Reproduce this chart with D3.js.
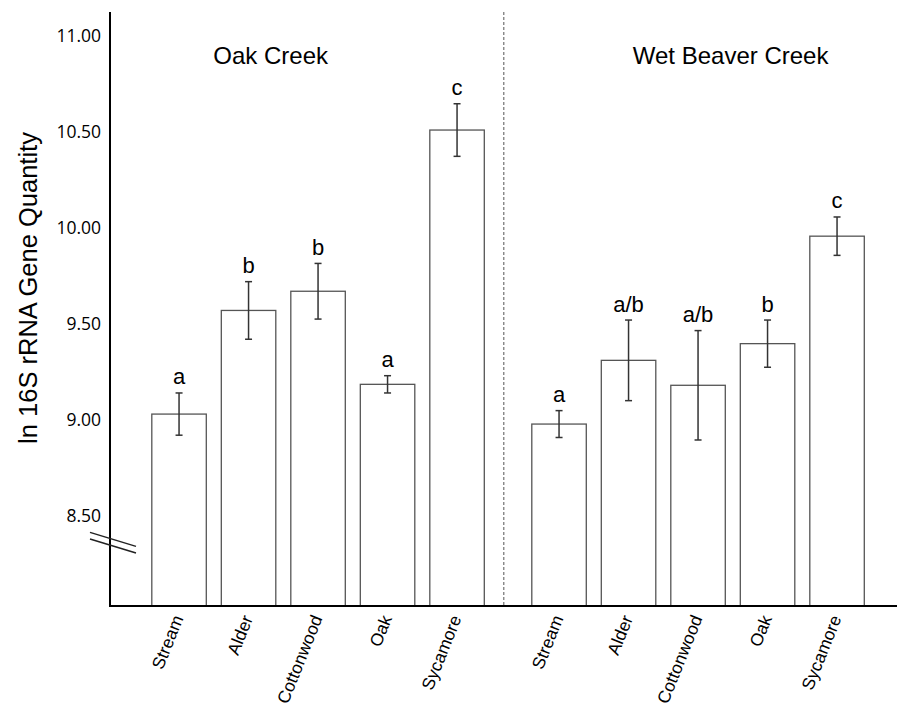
<!DOCTYPE html>
<html>
<head>
<meta charset="utf-8">
<script src="https://d3js.org/d3.v7.min.js"></script>
<style>
  html, body { margin: 0; padding: 0; background: #fff; }
  svg { display: block; }
</style>
</head>
<body>
<svg id="chart" width="897" height="708"></svg>
<script>
// ---- data ----
const groups = ["Oak Creek", "Wet Beaver Creek"];
const categories = ["Stream", "Alder", "Cottonwood", "Oak", "Sycamore"];
const oakCreekMeans = [9.03, 9.57, 9.67, 9.185, 10.51];
const oakCreekErr   = [0.11, 0.15, 0.145, 0.045, 0.137];
const oakCreekLetters = ["a", "b", "b", "a", "c"];
const wetBeaverMeans = [8.978, 9.31, 9.18, 9.397, 9.957];
const wetBeaverErr   = [0.07, 0.21, 0.285, 0.123, 0.10];
const wetBeaverLetters = ["a", "a/b", "a/b", "b", "c"];
const yTicks = [8.5, 9.0, 9.5, 10.0, 10.5, 11.0];
const yLabel = "ln 16S rRNA Gene Quantity";

const seriesByGroup = {
  "Oak Creek": { means: oakCreekMeans, err: oakCreekErr, letters: oakCreekLetters },
  "Wet Beaver Creek": { means: wetBeaverMeans, err: wetBeaverErr, letters: wetBeaverLetters }
};

const rows = [];
groups.forEach(g => {
  const s = seriesByGroup[g];
  categories.forEach((c, i) => rows.push({ group: g, cat: c, mean: s.means[i], err: s.err[i], letter: s.letters[i] }));
});

// ---- layout ----
const svg = d3.select("#chart");
const axisX = 110, axisBottom = 606, axisTop = 12;

const y = d3.scaleLinear().domain([8.03, 11.0]).range([axisBottom, 36]);

const xg = d3.scaleBand().domain(groups).range([144.3, 871.8]).paddingInner(0.0855).paddingOuter(0);
const xi = d3.scaleBand().domain(categories).range([0, xg.bandwidth()]).paddingInner(0.216).paddingOuter(0.108);

const barX = d => xg(d.group) + xi(d.cat);
const barC = d => barX(d) + xi.bandwidth() / 2;

// bars
svg.append("g").selectAll("rect").data(rows).join("rect")
  .attr("x", barX)
  .attr("y", d => y(d.mean))
  .attr("width", xi.bandwidth())
  .attr("height", d => axisBottom - y(d.mean))
  .attr("fill", "#fff")
  .attr("stroke", "#555")
  .attr("stroke-width", 1.3);

// error bars
const eb = svg.append("g").attr("stroke", "#333").attr("stroke-width", 1.5);
eb.selectAll("line.v").data(rows).join("line").attr("class", "v")
  .attr("x1", barC).attr("x2", barC)
  .attr("y1", d => y(d.mean + d.err)).attr("y2", d => y(d.mean - d.err));
eb.selectAll("line.t").data(rows).join("line").attr("class", "t")
  .attr("x1", d => barC(d) - 3.5).attr("x2", d => barC(d) + 3.5)
  .attr("y1", d => y(d.mean + d.err)).attr("y2", d => y(d.mean + d.err));
eb.selectAll("line.b").data(rows).join("line").attr("class", "b")
  .attr("x1", d => barC(d) - 3.5).attr("x2", d => barC(d) + 3.5)
  .attr("y1", d => y(d.mean - d.err)).attr("y2", d => y(d.mean - d.err));

// significance letters
svg.append("g").selectAll("text").data(rows).join("text")
  .attr("x", barC)
  .attr("y", d => y(d.mean + d.err) - 8.5)
  .attr("text-anchor", "middle")
  .attr("font-family", "Liberation Sans, Arial, sans-serif")
  .attr("font-size", 22)
  .attr("fill", "#000")
  .text(d => d.letter);

// dashed separator
const sepX = xg(groups[0]) + xg.bandwidth() + xg.step() * xg.paddingInner() * 0.37;
svg.append("line")
  .attr("x1", sepX).attr("x2", sepX)
  .attr("y1", axisTop).attr("y2", axisBottom)
  .attr("stroke", "#555").attr("stroke-width", 1)
  .attr("stroke-dasharray", "3,2");

// group titles
const titleOffsets = { "Oak Creek": 69, "Wet Beaver Creek": 108.5 };
svg.append("g").selectAll("text").data(groups).join("text")
  .attr("x", g => xg(g) + titleOffsets[g])
  .attr("y", 64)
  .attr("font-family", "Liberation Sans, Arial, sans-serif")
  .attr("font-size", 24)
  .attr("fill", "#000")
  .text(g => g);

// y axis labels
const yAxis = d3.axisLeft(y).tickValues(yTicks).tickFormat(d3.format(".2f")).tickSize(0).tickPadding(9);
const ya = svg.append("g").attr("transform", `translate(${axisX},0)`).call(yAxis);
ya.select(".domain").remove();
ya.selectAll("text")
  .attr("font-family", "Open Sans, sans-serif")
  .attr("font-size", 17.5)
  .attr("fill", "#000");

// axis lines
svg.append("line").attr("x1", axisX).attr("x2", axisX).attr("y1", axisTop).attr("y2", axisBottom + 1)
  .attr("stroke", "#000").attr("stroke-width", 2);
svg.append("line").attr("x1", axisX - 1).attr("x2", 897).attr("y1", axisBottom).attr("y2", axisBottom)
  .attr("stroke", "#000").attr("stroke-width", 2);

// axis break marks
const breakY = y(8.36);
[-3.3, 3.3].forEach(off => {
  svg.append("line")
    .attr("x1", 90).attr("x2", 136)
    .attr("y1", breakY + off - 7).attr("y2", breakY + off + 7)
    .attr("stroke", "#222").attr("stroke-width", 1.5);
});

// x category labels (rotated)
svg.append("g").selectAll("text").data(rows).join("text")
  .attr("transform", d => `translate(${barC(d) - 1},${axisBottom + 10}) rotate(-68)`)
  .attr("text-anchor", "end")
  .attr("dy", "0.35em")
  .attr("font-family", "Liberation Sans, Arial, sans-serif")
  .attr("font-size", 17.5)
  .attr("fill", "#000")
  .text(d => d.cat);

// y axis title
svg.append("text")
  .attr("transform", `translate(37,${288}) rotate(-90)`)
  .attr("text-anchor", "middle")
  .attr("font-family", "Liberation Sans, Arial, sans-serif")
  .attr("font-size", 25.5)
  .attr("fill", "#000")
  .text(yLabel);
</script>
</body>
</html>
